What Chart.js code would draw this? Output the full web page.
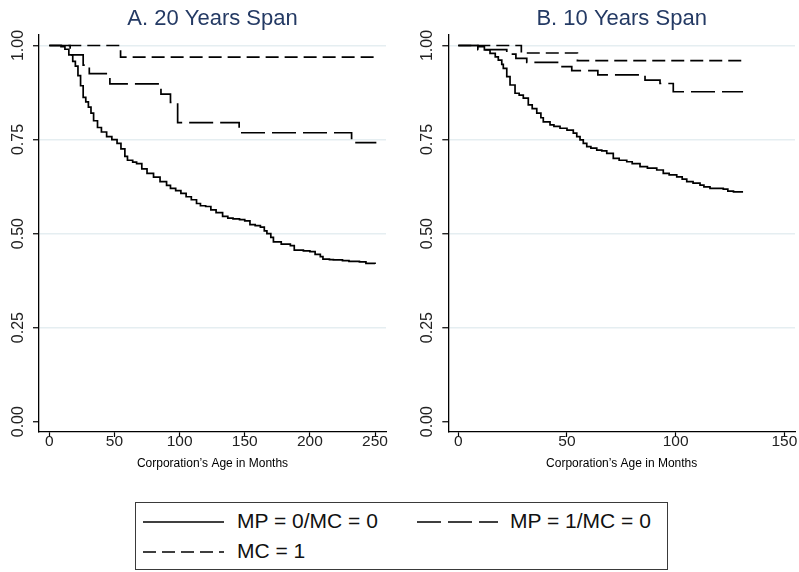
<!DOCTYPE html>
<html>
<head>
<meta charset="utf-8">
<script src="https://cdn.jsdelivr.net/npm/chart.js@4.4.1/dist/chart.umd.min.js"></script>
<style>
  html, body { margin: 0; padding: 0; background: #fff; width: 799px; height: 572px; overflow: hidden;
    font-family: "Liberation Sans", Arial, Helvetica, sans-serif; }
  #wa { position: absolute; left: 0; top: 0; width: 400px; height: 480px; }
  #wb { position: absolute; left: 400px; top: 0; width: 399px; height: 480px; }
  #legendBox { position: absolute; left: 135px; top: 502px; width: 533px; height: 68px;
    box-sizing: border-box; border: 1.3px solid #3a3a3a; }
  .lg-text { position: absolute; font-size: 21px; line-height: 21px; color: #111; white-space: nowrap; }
  .lg-line { position: absolute; }
</style>
</head>
<body>
<div id="wa"><canvas id="chartA"></canvas></div>
<div id="wb"><canvas id="chartB"></canvas></div>
<div id="legendBox"></div>
<svg class="lg-line" id="lgS1" style="left:143px;top:517px" width="82" height="10"></svg>
<div class="lg-text" style="left:237px;top:510px">MP = 0/MC = 0</div>
<svg class="lg-line" id="lgS2" style="left:417px;top:517px" width="82" height="10"></svg>
<div class="lg-text" style="left:510px;top:510px">MP = 1/MC = 0</div>
<svg class="lg-line" id="lgS3" style="left:143px;top:547px" width="82" height="10"></svg>
<div class="lg-text" style="left:237px;top:540px">MC = 1</div>

<script>
// ---------------- DATA ----------------
const seriesNames = ['MP = 0/MC = 0', 'MP = 1/MC = 0', 'MC = 1'];
const panelTitles = ['A. 20 Years Span', 'B. 10 Years Span'];
const xAxisTitle = 'Corporation\u2019s Age in Months';
const yTickValues = [0, 0.25, 0.5, 0.75, 1];
const xTicksA = [0, 50, 100, 150, 200, 250];
const xTicksB = [0, 50, 100, 150];

// Panel A (20 years span) - Kaplan-Meier style survival estimates
const aSolidT = [0, 9, 12, 15, 18, 20, 22, 24, 26, 28, 30, 32, 34, 37, 40, 44, 48, 52, 55, 58, 60, 64, 67, 71, 75, 80, 85, 90, 93, 97, 101, 105, 109, 113, 116, 120, 124, 128, 133, 137, 141, 146, 150, 154, 158, 162, 165, 167, 170, 172, 178, 185, 188, 195, 200, 204, 208, 210, 215, 218, 225, 230, 238, 243, 250];
const aSolidS = [1.0, 0.997, 0.99, 0.975, 0.958, 0.945, 0.92, 0.893, 0.862, 0.85, 0.836, 0.82, 0.80, 0.782, 0.77, 0.758, 0.75, 0.74, 0.725, 0.705, 0.695, 0.69, 0.686, 0.672, 0.66, 0.65, 0.638, 0.628, 0.62, 0.614, 0.607, 0.598, 0.59, 0.58, 0.574, 0.572, 0.563, 0.556, 0.546, 0.541, 0.539, 0.537, 0.534, 0.524, 0.521, 0.517, 0.507, 0.50, 0.49, 0.478, 0.472, 0.468, 0.456, 0.454, 0.452, 0.445, 0.439, 0.432, 0.431, 0.43, 0.428, 0.426, 0.425, 0.421, 0.419];
const aLongT = [0, 16, 26, 30.7, 46.5, 85.7, 93, 98.5, 145.7, 232, 251];
const aLongS = [1.0, 0.975, 0.948, 0.925, 0.898, 0.871, 0.849, 0.795, 0.768, 0.742, 0.742];
const aShortT = [0, 54.7, 251];
const aShortS = [1.0, 0.969, 0.969];

// Panel B (10 years span)
const bSolidT = [0, 5, 9, 12, 14.6, 17, 18.4, 20, 20.7, 22.3, 23.8, 26.1, 28, 29.9, 32.2, 34, 36.1, 38, 39.1, 42.2, 44, 46.8, 50, 52.9, 54.5, 56, 57.5, 59.1, 61, 63.7, 66, 68.3, 71.3, 74, 77.5, 80, 83.6, 87, 91.3, 94.3, 97, 100.5, 103, 105.1, 108, 111.2, 113, 115.8, 121.9, 124, 126.6, 131];
const bSolidS = [1.0, 1.0, 0.997, 0.988, 0.979, 0.97, 0.961, 0.95, 0.939, 0.917, 0.895, 0.873, 0.868, 0.86, 0.842, 0.832, 0.82, 0.808, 0.797, 0.789, 0.785, 0.78, 0.775, 0.767, 0.758, 0.749, 0.74, 0.731, 0.727, 0.722, 0.72, 0.713, 0.70, 0.695, 0.691, 0.686, 0.678, 0.674, 0.669, 0.66, 0.656, 0.651, 0.645, 0.638, 0.634, 0.629, 0.624, 0.62, 0.618, 0.613, 0.611, 0.611];
const bLongT = [0, 9, 22.3, 26.5, 31.5, 46.6, 52.2, 64.2, 85.9, 92.8, 98.9, 131];
const bLongS = [1.0, 0.989, 0.977, 0.966, 0.955, 0.944, 0.933, 0.922, 0.908, 0.899, 0.877, 0.877];
const bShortT = [0, 29, 54.8, 131];
const bShortS = [1.0, 0.98, 0.96, 0.96];

// ---------------- STYLE ----------------
const DASH_SOLID = [];
const DASH_LONG = [24, 7];
const DASH_SHORT = [13, 6];
const LINE_W = 1.7;
const FONT = '"Liberation Sans", Arial, Helvetica, sans-serif';

Chart.defaults.font.family = FONT;
Chart.defaults.devicePixelRatio = 1;

function pts(t, s) { return t.map((x, i) => ({ x: x, y: s[i] })); }

function ds(label, t, s, dash) {
  return { label: label, data: pts(t, s), borderColor: '#000', borderWidth: LINE_W, borderDash: dash,
    pointRadius: 0, pointHoverRadius: 0, fill: false, stepped: true, tension: 0 };
}

function makeChart(id, title, datasets, xTicks, xmin, xmax, yWidth, padRight) {
  return new Chart(document.getElementById(id), {
    type: 'line',
    data: { datasets: datasets },
    options: {
      animation: false, responsive: true, maintainAspectRatio: false,
      layout: { padding: { left: 0, right: padRight, top: 0, bottom: 0 } },
      plugins: {
        legend: { display: false }, tooltip: { enabled: false },
        title: { display: true, text: title, color: '#243a64', fullSize: false,
          font: { size: 22, weight: 'normal', lineHeight: 1.2 }, padding: { top: 6, bottom: 2.6 } }
      },
      scales: {
        x: {
          type: 'linear', min: xmin, max: xmax,
          afterBuildTicks: s => { s.ticks = xTicks.map(v => ({ value: v })); },
          afterFit: s => { s.height = 48; },
          grid: { drawOnChartArea: false, drawTicks: true, tickLength: 5, tickColor: '#000', tickWidth: 1.2 },
          border: { display: true, color: '#000', width: 1.3 },
          ticks: { font: { size: 15.5, lineHeight: 1.2 }, color: '#222', padding: -4.2, maxRotation: 0, autoSkip: false,
            callback: v => String(v) },
          title: { display: true, text: xAxisTitle, color: '#000', font: { size: 12, lineHeight: 1.2 },
            padding: { top: 0, bottom: 8.8 } }
        },
        y: {
          type: 'linear', min: -0.0274, max: 1.0279,
          afterBuildTicks: s => { s.ticks = yTickValues.map(v => ({ value: v })); },
          afterFit: s => { s.width = yWidth; },
          grid: { color: c => (c.tick && c.tick.value === 0) ? 'rgba(0,0,0,0)' : '#e5eef1', lineWidth: 1.5,
            drawTicks: true, tickLength: 6, tickColor: '#000', tickWidth: 1.2 },
          border: { display: true, color: '#000', width: 1.3 },
          ticks: { minRotation: 90, maxRotation: 90, crossAlign: 'center', padding: -1.3,
            font: { size: 16 }, color: '#222', callback: v => Number(v).toFixed(2) }
        }
      }
    }
  });
}

makeChart('chartA', panelTitles[0], [
  ds(seriesNames[0], aSolidT, aSolidS, DASH_SOLID),
  ds(seriesNames[1], aLongT, aLongS, DASH_LONG),
  ds(seriesNames[2], aShortT, aShortS, DASH_SHORT)
], xTicksA, -7.9, 258.4, 39, 14);

makeChart('chartB', panelTitles[1], [
  ds(seriesNames[0], bSolidT, bSolidS, DASH_SOLID),
  ds(seriesNames[1], bLongT, bLongS, DASH_LONG),
  ds(seriesNames[2], bShortT, bShortS, DASH_SHORT)
], xTicksB, -4.6, 154.9, 48.3, 4);

// legend samples
function sample(id, dash) {
  const svg = document.getElementById(id);
  const ns = 'http://www.w3.org/2000/svg';
  const ln = document.createElementNS(ns, 'line');
  ln.setAttribute('x1', 0); ln.setAttribute('y1', 5); ln.setAttribute('x2', 81); ln.setAttribute('y2', 5);
  ln.setAttribute('stroke', '#000'); ln.setAttribute('stroke-width', LINE_W);
  if (dash.length) ln.setAttribute('stroke-dasharray', dash.join(' '));
  svg.appendChild(ln);
}
sample('lgS1', DASH_SOLID);
sample('lgS2', DASH_LONG);
sample('lgS3', DASH_SHORT);
</script>
</body>
</html>
